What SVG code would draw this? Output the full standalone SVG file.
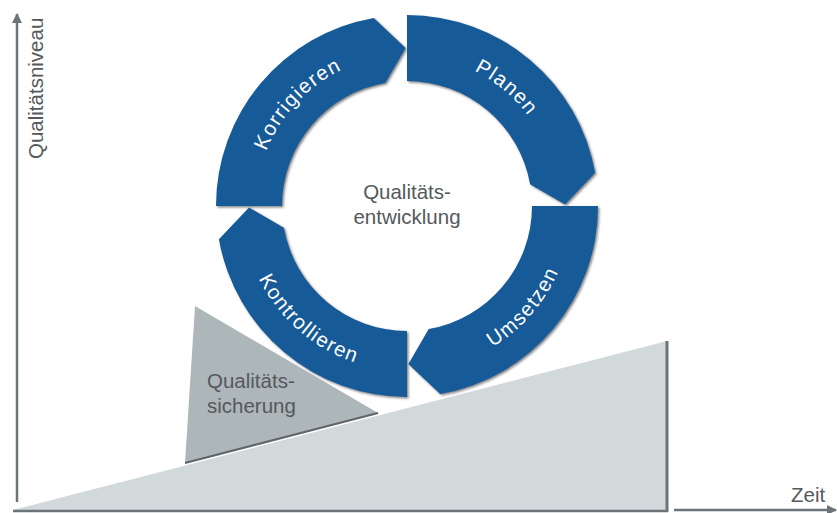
<svg xmlns="http://www.w3.org/2000/svg" xmlns:xlink="http://www.w3.org/1999/xlink" width="837" height="513" viewBox="0 0 837 513">
  <style>
    .lbl { font-family: "Liberation Sans", Arial, sans-serif; font-size: 20.5px; fill: #55595c; }
    .seg { fill: #165a97; filter: url(#sh); }
    .segtxt { font-family: "Liberation Sans", Arial, sans-serif; font-size: 20.5px; fill: #ffffff; letter-spacing: 1.3px; }
    .axis { stroke: #6b7478; stroke-width: 2.5; fill: none; }
  </style>
  <defs>
    <filter id="sh" x="-10%" y="-10%" width="120%" height="120%">
      <feDropShadow dx="1.5" dy="1.5" stdDeviation="0.8" flood-color="#4a4f52" flood-opacity="0.7"/>
    </filter>
    <marker id="arr" viewBox="0 0 10 10" refX="9" refY="5" markerWidth="4" markerHeight="4" orient="auto" markerUnits="strokeWidth">
      <path d="M0,0 L10,5 L0,10 Z" fill="#6b7478"/>
    </marker>
    <path id="tpPlanen" d="M407,55 A151,151 0 0 1 555.71,179.78"/>
    <path id="tpKorr" d="M256.21,198.10 A151,151 0 0 1 388.60,56.13"/>
    <path id="tpUms" d="M432.81,368.97 A165,165 0 0 0 571.98,208.88"/>
    <path id="tpKontr" d="M244.03,231.81 A165,165 0 0 0 404.12,370.98"/>
  </defs>

  <!-- background shapes -->
  <g id="ramp">
    <polygon points="13,510 667,341 667,511" fill="#d2d9db"/>
    <line x1="667" y1="341" x2="667" y2="512" stroke="#6b7478" stroke-width="3"/>
    <line x1="13" y1="511" x2="668" y2="511" stroke="#6b7478" stroke-width="2.5"/>
  </g>

  <g id="sicherung">
    <polygon points="195,306 378,413 185,463" fill="#adb6b9"/>
    <line x1="185" y1="463" x2="378" y2="413" stroke="#5e6669" stroke-width="2"/>
    <text class="lbl" x="207" y="388">Qualitäts-</text>
    <text class="lbl" x="207" y="413">sicherung</text>
  </g>

  <!-- axes -->
  <g id="connectors">
    <line class="axis" x1="17" y1="502" x2="17" y2="14" marker-end="url(#arr)"/>
    <line class="axis" x1="674" y1="510" x2="836" y2="510" marker-end="url(#arr)"/>
  </g>
  <text class="lbl" transform="translate(43,159) rotate(-90)">Qualitätsniveau</text>
  <text class="lbl" x="791" y="502">Zeit</text>

  <!-- cycle -->
  <g id="planen">
    <path class="seg" d="M407,15 A191,191 0 0 1 595.10,172.83 L564.99,204.62 L530.10,184.29 A125,125 0 0 0 407,81 Z"/>
    <text class="segtxt"><textPath xlink:href="#tpPlanen" href="#tpPlanen" startOffset="50%" text-anchor="middle">Planen</textPath></text>
  </g>
  <g id="umsetzen">
    <path class="seg" d="M598,206 A191,191 0 0 1 440.17,394.10 L408.38,363.99 L428.71,329.10 A125,125 0 0 0 532,206 Z"/>
    <text class="segtxt"><textPath xlink:href="#tpUms" href="#tpUms" startOffset="50%" text-anchor="middle">Umsetzen</textPath></text>
  </g>
  <g id="kontrollieren">
    <path class="seg" d="M407,397 A191,191 0 0 1 218.90,239.17 L249.01,207.38 L283.90,227.71 A125,125 0 0 0 407,331 Z"/>
    <text class="segtxt"><textPath xlink:href="#tpKontr" href="#tpKontr" startOffset="50%" text-anchor="middle">Kontrollieren</textPath></text>
  </g>
  <g id="korrigieren">
    <path class="seg" d="M216,206 A191,191 0 0 1 373.83,17.90 L405.62,48.01 L385.29,82.90 A125,125 0 0 0 282,206 Z"/>
    <text class="segtxt"><textPath xlink:href="#tpKorr" href="#tpKorr" startOffset="50%" text-anchor="middle">Korrigieren</textPath></text>
  </g>

  <g id="entwicklung">
    <text class="lbl" x="407" y="199" text-anchor="middle">Qualitäts-</text>
    <text class="lbl" x="407" y="224" text-anchor="middle">entwicklung</text>
  </g>
</svg>
